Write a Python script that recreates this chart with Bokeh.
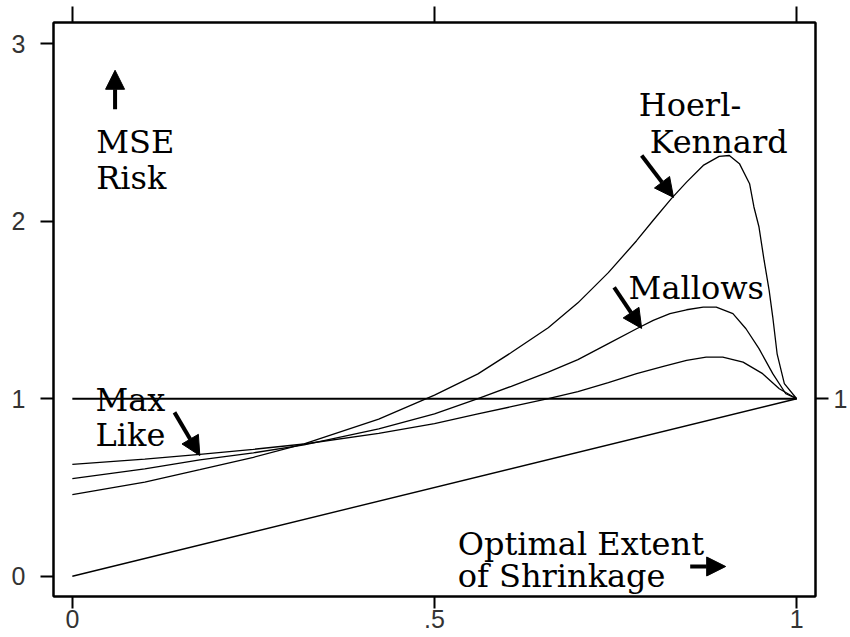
from bokeh.plotting import figure
from bokeh.models import LinearAxis, FixedTicker, Range1d, Arrow, NormalHead, ColumnDataSource
from bokeh.core.properties import value
from bokeh.embed import file_html
from bokeh.resources import INLINE

# ---- data ----
hk_x = [0.0, 0.1, 0.176, 0.25, 0.32, 0.423, 0.5, 0.56, 0.606, 0.657, 0.698, 0.74,
        0.779, 0.802, 0.827, 0.848, 0.871, 0.893, 0.907, 0.921, 0.935, 0.941,
        0.948, 0.955, 0.962, 0.967, 0.973, 0.983, 1.0]
hoerl_kennard = [0.46, 0.53, 0.60, 0.67, 0.745, 0.885, 1.02, 1.14, 1.26, 1.40, 1.54, 1.71,
                 1.89, 2.005, 2.127, 2.22, 2.314, 2.365, 2.37, 2.324, 2.211, 2.08,
                 1.967, 1.78, 1.61, 1.46, 1.253, 1.085, 1.0]

ma_x = [0.0, 0.1, 0.176, 0.25, 0.32, 0.423, 0.5, 0.56, 0.606, 0.657, 0.698, 0.74,
        0.779, 0.802, 0.825, 0.848, 0.871, 0.889, 0.912, 0.930, 0.948, 0.967,
        0.985, 1.0]
mallows = [0.55, 0.605, 0.655, 0.695, 0.74, 0.83, 0.915, 1.0, 1.07, 1.15, 1.22, 1.31,
           1.394, 1.441, 1.479, 1.501, 1.516, 1.516, 1.479, 1.394, 1.282, 1.141,
           1.028, 1.0]

th_x = [0.0, 0.1, 0.176, 0.25, 0.32, 0.423, 0.5, 0.56, 0.606, 0.657, 0.698, 0.74,
        0.779, 0.816, 0.848, 0.875, 0.898, 0.926, 0.953, 0.976, 1.0]
third_rule = [0.63, 0.66, 0.687, 0.715, 0.745, 0.805, 0.86, 0.915, 0.955, 1.0, 1.04, 1.09,
              1.141, 1.182, 1.216, 1.234, 1.234, 1.206, 1.141, 1.056, 1.0]

max_like_x = [0.0, 1.0]
max_like_y = [1.0, 1.0]
optimal_x = [0.0, 1.0]
optimal_y = [0.0, 1.0]

x_ticks = [0, 0.5, 1]
x_tick_labels = ["0", ".5", "1"]
y_ticks = [0, 1, 2, 3]
right_ticks = [1]

note_text = ["MSE", "Risk", "Hoerl-", "Kennard", "Mallows", "Max", "Like",
             "Optimal Extent", "of Shrinkage"]
note_x = [0.033, 0.033, 0.782, 0.797, 0.768, 0.032, 0.032, 0.532, 0.532]
note_y = [2.444, 2.245, 2.652, 2.444, 1.621, 0.99, 0.793, 0.179, 0.0]

# arrows: (x_start, y_start, x_end, y_end)
arrows = [
    (0.059, 2.63, 0.059, 2.85),
    (0.786, 2.37, 0.830, 2.134),
    (0.748, 1.627, 0.786, 1.396),
    (0.141, 0.923, 0.176, 0.680),
    (0.853, 0.055, 0.902, 0.055),
]

p = figure(width=850, height=637, output_backend="svg", toolbar_location=None,
           x_range=Range1d(-0.026, 1.026), y_range=Range1d(-0.114, 3.119),
           x_axis_location=None, y_axis_location=None,
           min_border_left=53, min_border_right=30, min_border_top=22,
           min_border_bottom=41)
p.grid.visible = False
p.outline_line_color = "black"
p.outline_line_width = 2
p.background_fill_color = "white"
p.border_fill_color = "white"


def style_axis(ax, out, standoff, size):
    ax.axis_line_color = "black"
    ax.axis_line_width = 2
    ax.major_tick_line_color = "black"
    ax.major_tick_line_width = 2
    ax.major_tick_out = out
    ax.major_tick_in = 0
    ax.minor_tick_line_color = None
    ax.major_label_text_font = "Liberation Sans"
    ax.major_label_text_font_size = size
    ax.major_label_text_color = "#333333"
    ax.major_label_standoff = standoff


left = LinearAxis(ticker=FixedTicker(ticks=y_ticks))
style_axis(left, 13, 15, "25px")
p.add_layout(left, "left")

bottom = LinearAxis(ticker=FixedTicker(ticks=x_ticks))
bottom.major_label_overrides = {t: l for t, l in zip(x_ticks, x_tick_labels)}
style_axis(bottom, 12, 1, "25px")
p.add_layout(bottom, "below")

top = LinearAxis(ticker=FixedTicker(ticks=x_ticks))
style_axis(top, 16, 0, "0px")
top.major_label_text_color = None
p.add_layout(top, "above")

right = LinearAxis(ticker=FixedTicker(ticks=right_ticks))
style_axis(right, 13, 5, "25px")
p.add_layout(right, "right")

for xs, ys in [(hk_x, hoerl_kennard), (ma_x, mallows), (th_x, third_rule)]:
    p.line(xs, ys, line_color="black", line_width=1.3)
p.line(max_like_x, max_like_y, line_color="black", line_width=2)
p.line(optimal_x, optimal_y, line_color="black", line_width=1.4)

src = ColumnDataSource(dict(x=note_x, y=note_y, t=note_text))
p.text(x="x", y="y", text="t", source=src, text_font=value("DejaVu Serif"),
       text_font_size="32px", text_color="black", text_align="left",
       text_baseline="alphabetic")

for (xs, ys, xe, ye) in arrows:
    p.add_layout(Arrow(x_start=xs, y_start=ys, x_end=xe, y_end=ye,
                       line_color="black", line_width=4,
                       end=NormalHead(size=19, fill_color="black", line_color="black", line_width=1)))

open("out.html", "w").write(file_html(p, INLINE))
